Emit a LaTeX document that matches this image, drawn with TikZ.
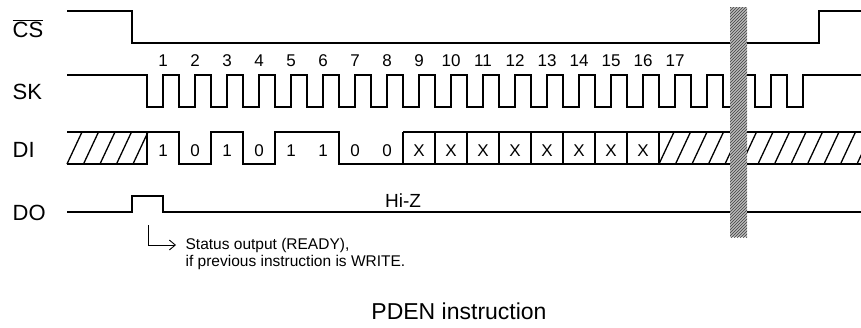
\documentclass[tikz,border=0pt]{standalone}
\usepackage{fontspec}
\setmainfont{Liberation Sans}
\usetikzlibrary{calc,arrows.meta,patterns}

\begin{document}
\begin{tikzpicture}[x=1pt, y=-1pt, line width=1.3pt,
    sig/.style={anchor=base west, inner sep=0pt, font=\fontsize{22}{22}\selectfont},
    num/.style={inner sep=0pt, font=\fontsize{17}{17}\selectfont},
    bit/.style={inner sep=0pt, font=\fontsize{17}{17}\selectfont},
    note/.style={anchor=west, inner sep=0pt, font=\fontsize{15.5}{15.5}\selectfont}]
    \useasboundingbox (0,0) rectangle (861,327);

    \node[sig] (cs) at (12,37) {$\overline{\mbox{CS}}$};
    \node[sig] (sk) at (12,99) {SK};
    \node[sig] (di) at (12,157) {DI};
    \node[sig] (do) at (12,220) {DO};

    % CS
    \draw (67,11) -- (132,11) -- (132,43) -- (819,43) -- (819,11) -- (861,11);

    % SK
    \draw (67,75) \foreach \j in {0,...,20} {
        -- ({147+32*\j},75) -- ({147+32*\j},107) -- ({163+32*\j},107) -- ({163+32*\j},75)
    } -- (861,75);
    \foreach \k in {1,...,17}
        \node[num] (n\k) at ({131+32*\k},61) {\k};

    % DI
    \foreach \i in {0,...,4}
        \draw ({67+16.5*\i},164) -- ({82+16.5*\i},132);
    \draw (67,164) -- (147,164) -- (147,132);
    \draw (67,132) -- (179,132) -- (179,164) -- (211,164) -- (211,132) -- (243,132)
        -- (243,164) -- (275,164) -- (275,132) -- (339,132) -- (339,164) -- (403,164);
    \draw (403,132) -- (861,132) (403,164) -- (861,164);
    \foreach \x in {403,435,...,659}
        \draw (\x,132) -- (\x,164);
    \begin{scope}
        \clip (659,132) rectangle (861,164);
        \foreach \i in {0,...,12}
            \draw ({659+16.5*\i},164) -- ({674+16.5*\i},132);
    \end{scope}
    \foreach \b [count=\i] in {1,0,1,0,1,1,0,0,X,X,X,X,X,X,X,X}
        \node[bit] (b\i) at ({131+32*\i},151) {\b};

    % DO
    \draw (67,212) -- (132,212) -- (132,196) -- (163,196) -- (163,212) -- (861,212);
    \node[inner sep=0pt, font=\fontsize{19}{19}\selectfont] (hiz) at (403,201) {Hi-Z};

    % break bar
    \fill[gray!55] (730,7) rectangle (747,237);
    \fill[pattern=north east lines, pattern color=black!75] (730,7) rectangle (747,237);

    \coordinate (rdy) at (148,225);
    \node[note] (st1) at (185,245) {Status output (READY),};
    \node[note] (st2) at (185,262) {if previous instruction is WRITE.};
    \draw[line width=0.9pt, -{Straight Barb[length=6pt,width=10pt]}] (rdy) |- ([xshift=-9pt]st1.west);

    \node[font=\fontsize{23}{23}\selectfont] (title) at (459,311.5) {PDEN instruction};
\end{tikzpicture}
\end{document}
